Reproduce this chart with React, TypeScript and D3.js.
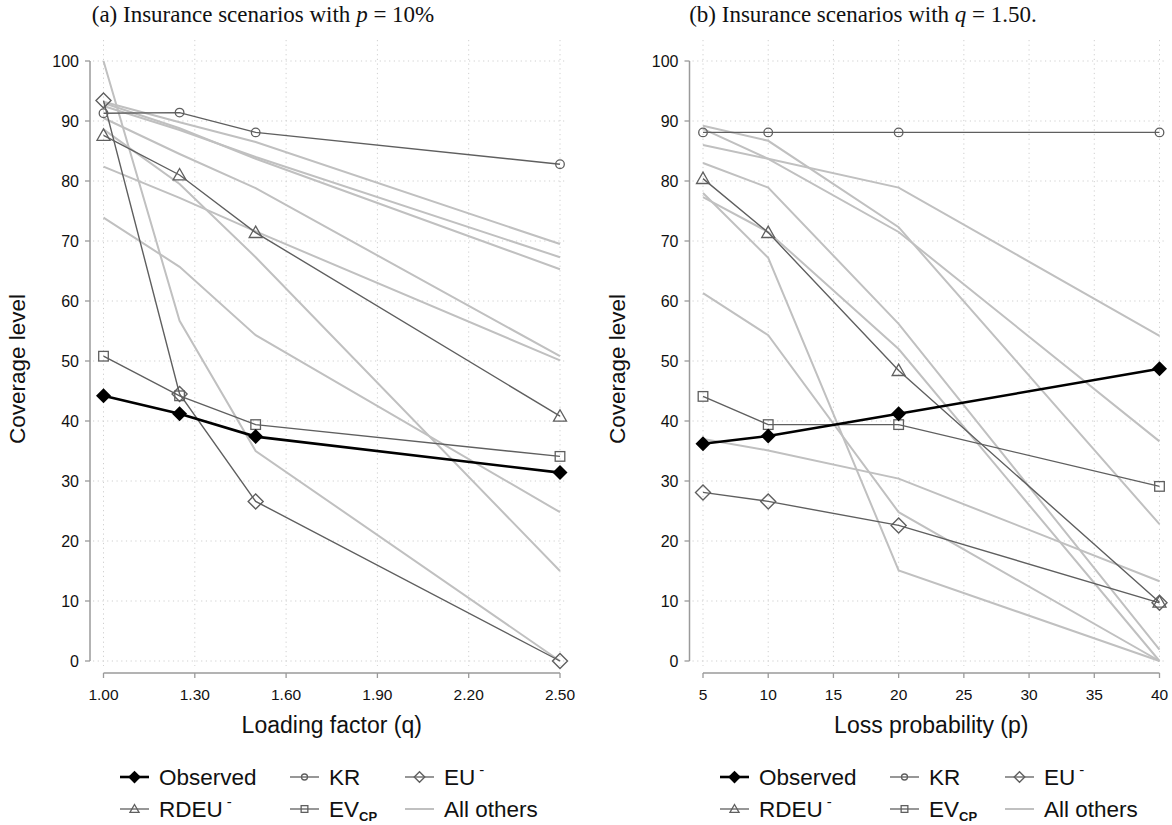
import * as React from "react";
import { line, scaleLinear } from "d3";

// x values where scenarios were observed
const qValues = [1.0, 1.25, 1.5, 2.5];
const pValues = [5, 10, 20, 40];
const qTicks = [1.0, 1.3, 1.6, 1.9, 2.2, 2.5];
const pTicks = [5, 10, 15, 20, 25, 30, 35, 40];
const yTicks = [0, 10, 20, 30, 40, 50, 60, 70, 80, 90, 100];

// panel (a): p = 10%
const observedA = [44.2, 41.2, 37.4, 31.4];
const krA = [91.3, 91.4, 88.1, 82.8];
const euA = [93.4, 44.5, 26.6, 0];
const rdeuA = [87.6, 81.0, 71.4, 40.8];
const evcpA = [50.8, 44.2, 39.4, 34.1];
const othersA = [
  [100, 56.7, 35.0, 0],
  [93.2, 89.8, 86.5, 69.5],
  [92.5, 88.5, 84.0, 67.3],
  [93.0, 88.8, 83.7, 65.3],
  [88.6, 79.5, 67.3, 15.0],
  [90.5, 84.5, 78.8, 50.8],
  [82.4, 77.2, 71.6, 50.1],
  [73.9, 65.7, 54.3, 24.8],
];

// panel (b): q = 1.50
const observedB = [36.2, 37.5, 41.2, 48.7];
const krB = [88.1, 88.1, 88.1, 88.1];
const euB = [28.1, 26.6, 22.6, 9.7];
const rdeuB = [80.4, 71.4, 48.4, 9.8];
const evcpB = [44.1, 39.4, 39.4, 29.1];
const othersB = [
  [89.2, 86.7, 72.3, 22.8],
  [88.7, 83.7, 71.5, 36.6],
  [86.0, 83.7, 78.9, 54.2],
  [83.0, 78.9, 56.2, 1.9],
  [77.3, 71.5, 52.0, 0],
  [78.0, 67.2, 15.1, 0],
  [61.3, 54.3, 24.8, 0],
  [37.0, 35.1, 30.4, 13.3],
];

const DARK = "#5f5f5f";
const LIGHT = "#c0c0c0";
const SANS = "'Liberation Sans', Arial, sans-serif";
const SERIF = "'Liberation Serif', 'DejaVu Serif', serif";

type Shape = "fdiamond" | "circle" | "triangle" | "square" | "diamond";

const Marker = (props: { shape: Shape; x: number; y: number; s?: number }) => {
  const { shape, x, y, s = 1 } = props;
  if (shape === "fdiamond") {
    const r = 7.5 * s;
    return <path d={`M${x},${y - r}L${x + r},${y}L${x},${y + r}L${x - r},${y}Z`} fill="#000" />;
  }
  if (shape === "diamond") {
    const r = 7.5 * s;
    return <path d={`M${x},${y - r}L${x + r},${y}L${x},${y + r}L${x - r},${y}Z`} fill="none" stroke={DARK} strokeWidth={1.4} />;
  }
  if (shape === "circle") {
    return <circle cx={x} cy={y} r={4.3 * s} fill="none" stroke={DARK} strokeWidth={1.3} />;
  }
  if (shape === "square") {
    const h = 4.8 * s;
    return <rect x={x - h} y={y - h} width={2 * h} height={2 * h} fill="none" stroke={DARK} strokeWidth={1.3} />;
  }
  const h = 6.5 * s;
  return <path d={`M${x},${y - h}L${x + h},${y + h * 0.75}L${x - h},${y + h * 0.75}Z`} fill="none" stroke={DARK} strokeWidth={1.3} />;
};

const Panel = (props: {
  dx: number;
  xs: number[];
  domain: [number, number];
  ticks: number[];
  fmt: (v: number) => string;
  xLabel: string;
  observed: number[];
  kr: number[];
  eu: number[];
  rdeu: number[];
  evcp: number[];
  others: number[][];
}) => {
  const { dx, xs, domain, ticks, fmt, xLabel, observed, kr, eu, rdeu, evcp, others } = props;
  const xScale = scaleLinear().domain(domain).range([103.5 + dx, 560 + dx]);
  const yScale = scaleLinear().domain([0, 100]).range([661, 61]);
  const axisX = 90 + dx;
  const axisY = 673;
  const path = line<number>()
    .x((_, i) => xScale(xs[i]))
    .y((d) => yScale(d));

  const models: { vals: number[]; shape: Shape }[] = [
    { vals: evcp, shape: "square" },
    { vals: rdeu, shape: "triangle" },
    { vals: eu, shape: "diamond" },
    { vals: kr, shape: "circle" },
  ];

  return (
    <g>
      {/* grid */}
      {yTicks.map((t) => (
        <line key={`gy${t}`} x1={axisX + 3} x2={xScale(domain[1]) + 6} y1={yScale(t)} y2={yScale(t)}
          stroke="#cfcfcf" strokeWidth={1} strokeDasharray="1.2,3.5" />
      ))}
      {ticks.map((t) => (
        <line key={`gx${t}`} x1={xScale(t)} x2={xScale(t)} y1={40} y2={666}
          stroke="#cfcfcf" strokeWidth={1} strokeDasharray="1.2,3.5" />
      ))}

      {/* y axis */}
      <line x1={axisX} x2={axisX} y1={yScale(100)} y2={yScale(0)} stroke="#9a9a9a" strokeWidth={1.5} />
      {yTicks.map((t) => (
        <g key={`ty${t}`}>
          <line x1={axisX - 5} x2={axisX} y1={yScale(t)} y2={yScale(t)} stroke="#9a9a9a" strokeWidth={1.3} />
          <text x={axisX - 11} y={yScale(t)} dy="0.35em" textAnchor="end" fontSize={16} fontFamily={SANS} fill="#111">{t}</text>
        </g>
      ))}
      <text transform={`translate(${dx + 25},369) rotate(-90)`} textAnchor="middle" fontSize={22.5} fontFamily={SANS} fill="#111">
        Coverage level
      </text>

      {/* x axis */}
      <line x1={xScale(domain[0])} x2={xScale(domain[1])} y1={axisY} y2={axisY} stroke="#9a9a9a" strokeWidth={1.5} />
      {ticks.map((t) => (
        <g key={`tx${t}`}>
          <line x1={xScale(t)} x2={xScale(t)} y1={axisY} y2={axisY + 5} stroke="#9a9a9a" strokeWidth={1.3} />
          <text x={xScale(t)} y={axisY + 27} textAnchor="middle" fontSize={15.5} fontFamily={SANS} fill="#111">{fmt(t)}</text>
        </g>
      ))}
      <text x={(xScale(domain[0]) + xScale(domain[1])) / 2} y={733} textAnchor="middle" fontSize={23} fontFamily={SANS} fill="#111">
        {xLabel}
      </text>

      {/* all other models */}
      {others.map((o, i) => (
        <path key={`o${i}`} d={path(o) ?? ""} fill="none" stroke={LIGHT} strokeWidth={2} />
      ))}

      {models.map((m, i) => (
        <g key={`m${i}`}>
          <path d={path(m.vals) ?? ""} fill="none" stroke={DARK} strokeWidth={1.4} />
          {m.vals.map((v, j) => (
            <Marker key={j} shape={m.shape} x={xScale(xs[j])} y={yScale(v)} />
          ))}
        </g>
      ))}

      <path d={path(observed) ?? ""} fill="none" stroke="#000" strokeWidth={2.6} />
      {observed.map((v, j) => (
        <Marker key={`ob${j}`} shape="fdiamond" x={xScale(xs[j])} y={yScale(v)} />
      ))}
    </g>
  );
};

const Legend = (props: { dx: number }) => {
  const { dx } = props;
  const cols = [120 + dx, 290 + dx, 405 + dx];
  const rows = [777, 809];
  const fs = 22.5;
  const key = (x: number, y: number, shape: Shape | null, color: string, w: number) => (
    <g>
      <line x1={x} x2={x + 29} y1={y} y2={y} stroke={color} strokeWidth={w} />
      {shape && <Marker shape={shape} x={x + 14.5} y={y} s={shape === "fdiamond" ? 0.85 : 0.7} />}
    </g>
  );
  const tx = (x: number, y: number, content: React.ReactNode) => (
    <text x={x + 39} y={y + 8} fontSize={fs} fontFamily={SANS} fill="#111">{content}</text>
  );
  return (
    <g>
      {key(cols[0], rows[0], "fdiamond", "#000", 2.6)}
      {tx(cols[0], rows[0], "Observed")}
      {key(cols[1], rows[0], "circle", DARK, 1.3)}
      {tx(cols[1], rows[0], "KR")}
      {key(cols[2], rows[0], "diamond", DARK, 1.3)}
      {tx(cols[2], rows[0], <>EU<tspan dx={4} dy={-10} fontSize={15}>-</tspan></>)}
      {key(cols[0], rows[1], "triangle", DARK, 1.3)}
      {tx(cols[0], rows[1], <>RDEU<tspan dx={4} dy={-10} fontSize={15}>-</tspan></>)}
      {key(cols[1], rows[1], "square", DARK, 1.3)}
      {tx(cols[1], rows[1], <>EV<tspan dy={4} fontSize={13} fontWeight="bold">CP</tspan></>)}
      {key(cols[2], rows[1], null, LIGHT, 2)}
      {tx(cols[2], rows[1], "All others")}
    </g>
  );
};

export default function App() {
  const dxB = 599.5;
  return (
    <svg width={1172} height={825} style={{ position: "absolute", left: 0, top: 0, background: "#fff" }}>
      <rect width={1172} height={825} fill="#fff" />
      <text x={263} y={22} textAnchor="middle" fontSize={23} fontFamily={SERIF} fill="#111">
        (a) Insurance scenarios with <tspan fontStyle="italic">p</tspan> = 10%
      </text>
      <text x={863} y={22} textAnchor="middle" fontSize={23} fontFamily={SERIF} fill="#111">
        (b) Insurance scenarios with <tspan fontStyle="italic">q</tspan> = 1.50.
      </text>
      <Panel dx={0} xs={qValues} domain={[1, 2.5]} ticks={qTicks} fmt={(v) => v.toFixed(2)}
        xLabel="Loading factor (q)" observed={observedA} kr={krA} eu={euA} rdeu={rdeuA} evcp={evcpA} others={othersA} />
      <Panel dx={dxB} xs={pValues} domain={[5, 40]} ticks={pTicks} fmt={(v) => `${v}`}
        xLabel="Loss probability (p)" observed={observedB} kr={krB} eu={euB} rdeu={rdeuB} evcp={evcpB} others={othersB} />
      <Legend dx={0} />
      <Legend dx={600} />
    </svg>
  );
}
